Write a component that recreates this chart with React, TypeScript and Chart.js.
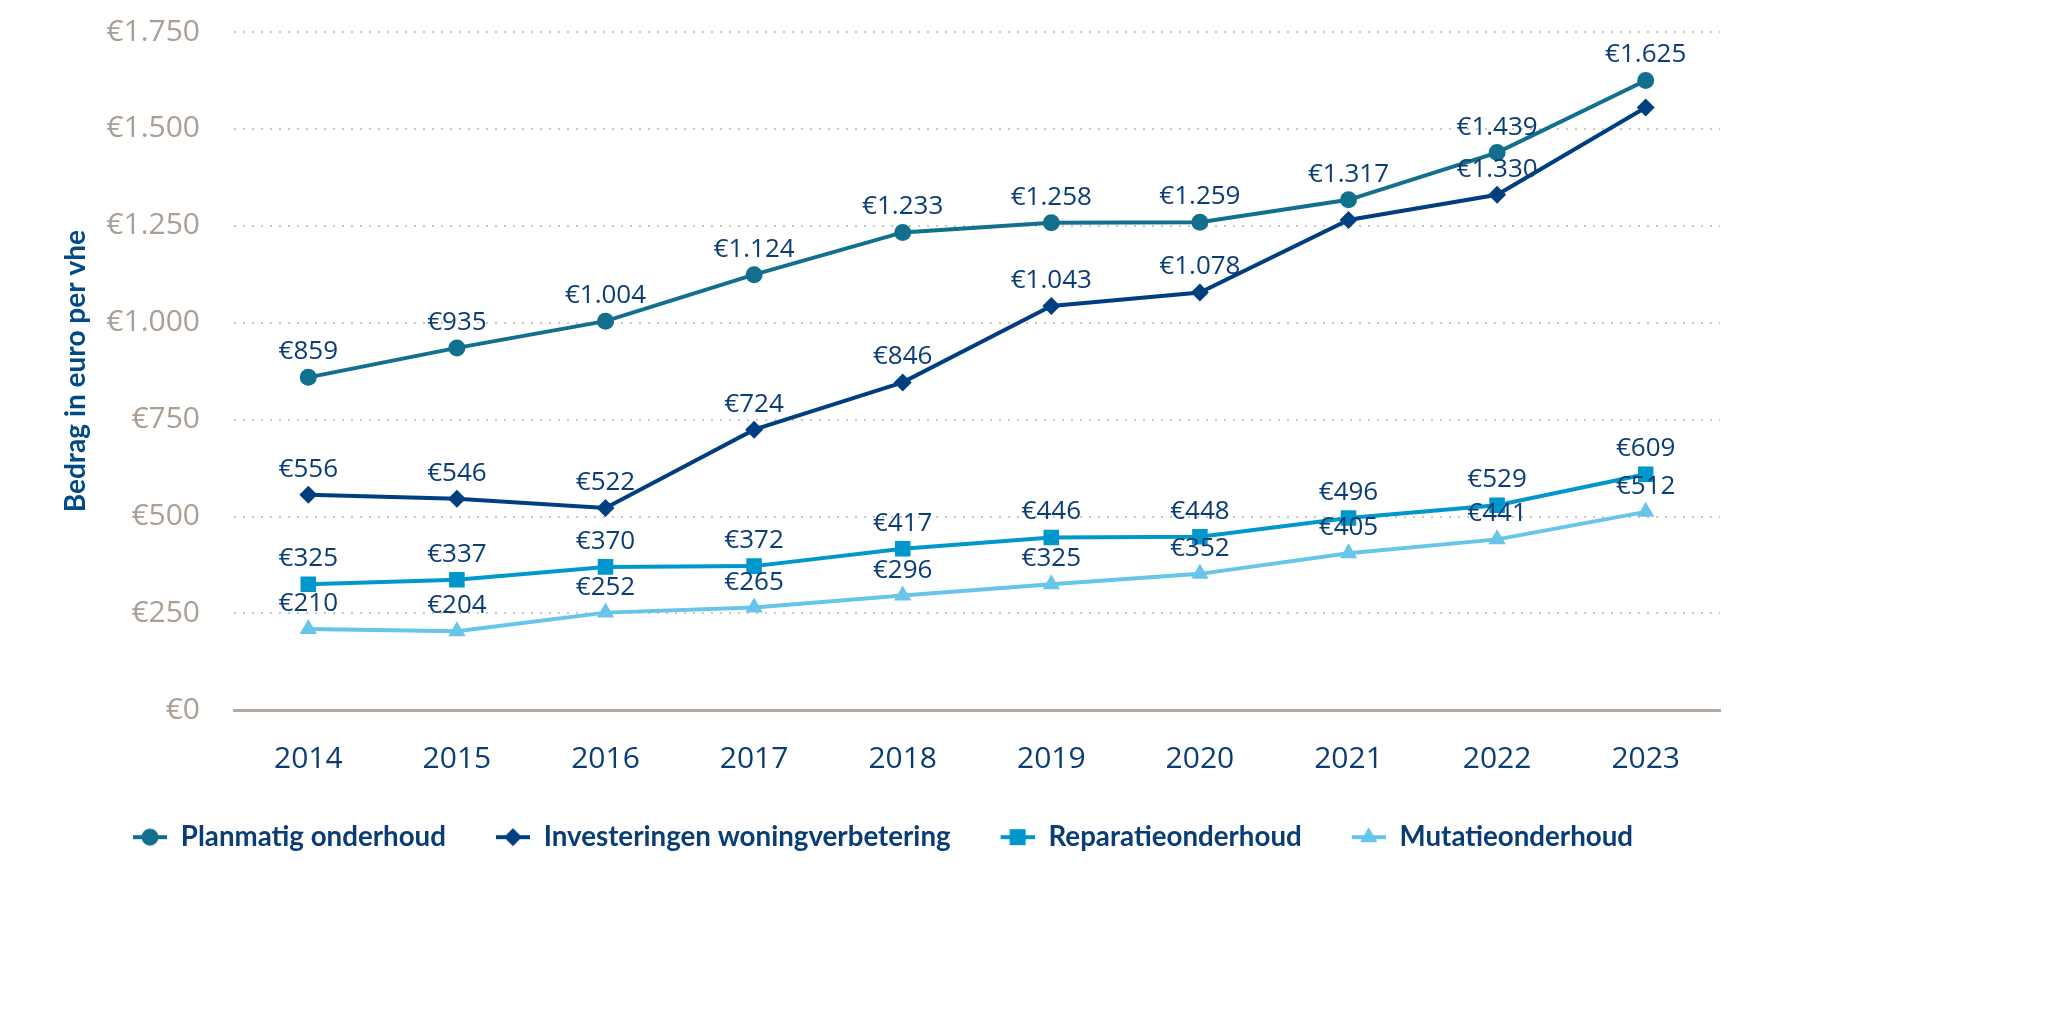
import React, { useEffect, useRef } from 'react';
import { Chart, registerables } from 'chart.js';

Chart.register(...registerables);

// ---- data ----
const years = ['2014', '2015', '2016', '2017', '2018', '2019', '2020', '2021', '2022', '2023'];
const planmatig = [859, 935, 1004, 1124, 1233, 1258, 1259, 1317, 1439, 1625];
const investeringen = [556, 546, 522, 724, 846, 1043, 1078, 1265, 1330, 1555];
const reparatie = [325, 337, 370, 372, 417, 446, 448, 496, 529, 609];
const mutatie = [210, 204, 252, 265, 296, 325, 352, 405, 441, 512];
const seriesNames = ['Planmatig onderhoud', 'Investeringen woningverbetering', 'Reparatieonderhoud', 'Mutatieonderhoud'];
// value labels that the reference does not show
const investeringenLabelShown = [true, true, true, true, true, true, true, false, true, false];
const yMin = 0;
const yMax = 1750;
const yStep = 250;
const yTitle = 'Bedrag in euro per vhe';

// ---- styles ----
const colors = ['#12708e', '#003f7f', '#0098cc', '#66c5e8'];
const pointStyles = ['circle', 'rectRot', 'rect', 'triangle'];
const pointRadii = [8.5, 9, 11, 10];
const labelColor = '#0b3d75';
const tickColor = '#ab9e92';

function euro(v: number): string {
  return '€' + String(Math.round(v)).replace(/\B(?=(\d{3})+(?!\d))/g, '.');
}

const LEGEND_GAP = 40;
const LEGEND_LINE = 34;

function makeLegendImage(i: number): HTMLCanvasElement {
  const M = LEGEND_GAP;
  const W = M + LEGEND_LINE;
  const H = 24;
  const c = document.createElement('canvas');
  c.width = W;
  c.height = H;
  const g = c.getContext('2d')!;
  const cy = H / 2;
  const cx = M + LEGEND_LINE / 2;
  g.strokeStyle = colors[i];
  g.fillStyle = colors[i];
  g.lineWidth = 4;
  g.beginPath();
  g.moveTo(M, cy);
  g.lineTo(W, cy);
  g.stroke();
  g.beginPath();
  const st = pointStyles[i];
  if (st === 'circle') {
    g.arc(cx, cy, 8.5, 0, Math.PI * 2);
  } else if (st === 'rectRot') {
    const r = 9;
    g.moveTo(cx, cy - r);
    g.lineTo(cx + r, cy);
    g.lineTo(cx, cy + r);
    g.lineTo(cx - r, cy);
    g.closePath();
  } else if (st === 'rect') {
    g.rect(cx - 8, cy - 8, 16, 16);
  } else {
    const r = 10;
    g.moveTo(cx, cy - r);
    g.lineTo(cx + r * 0.866, cy + r * 0.5);
    g.lineTo(cx - r * 0.866, cy + r * 0.5);
    g.closePath();
  }
  g.fill();
  return c;
}

const valueLabelPlugin = {
  id: 'valueLabels',
  afterDatasetsDraw(chart: any) {
    const ctx = chart.ctx;
    const shownBySeries = [null, investeringenLabelShown, null, null];
    ctx.save();
    ctx.font = '26px "Open Sans"';
    ctx.fillStyle = labelColor;
    ctx.textAlign = 'center';
    ctx.textBaseline = 'alphabetic';
    chart.data.datasets.forEach((ds: any, di: number) => {
      const meta = chart.getDatasetMeta(di);
      const shown = shownBySeries[di];
      meta.data.forEach((pt: any, i: number) => {
        if (shown && !shown[i]) return;
        ctx.fillText(euro(ds.data[i]), pt.x, pt.y - 18);
      });
    });
    ctx.restore();
  },
};

export default function App() {
  const ref = useRef<HTMLCanvasElement | null>(null);

  useEffect(() => {
    if (!ref.current) return;
    const legendImages = [0, 1, 2, 3].map(makeLegendImage);
    const seriesData = [planmatig, investeringen, reparatie, mutatie];
    const chart = new Chart(ref.current, {
      type: 'line',
      data: {
        labels: years,
        datasets: seriesData.map((d, i) => ({
          label: seriesNames[i],
          data: d,
          borderColor: colors[i],
          backgroundColor: colors[i],
          borderWidth: 4,
          pointStyle: pointStyles[i] as any,
          pointRadius: pointRadii[i],
          pointHoverRadius: pointRadii[i],
          pointBackgroundColor: colors[i],
          pointBorderWidth: 0,
          tension: 0,
          fill: false,
        })),
      },
      plugins: [valueLabelPlugin],
      options: {
        animation: false,
        responsive: true,
        maintainAspectRatio: false,
        devicePixelRatio: 1,
        layout: { padding: { left: 83, right: 328, top: 32, bottom: 155 } },
        plugins: {
          tooltip: { enabled: false },
          legend: {
            position: 'bottom',
            align: 'start',
            labels: {
              usePointStyle: true,
              pointStyleWidth: LEGEND_GAP + LEGEND_LINE,
              padding: 10,
              color: labelColor,
              font: { family: 'Lato', size: 27.7, weight: 'bold' },
              generateLabels(ch: any) {
                const items = Chart.defaults.plugins.legend.labels.generateLabels(ch);
                items.forEach((it: any, i: number) => {
                  it.pointStyle = legendImages[i];
                });
                return items;
              },
            },
          },
        },
        scales: {
          x: {
            offset: true,
            grid: { display: false, drawTicks: false },
            border: { display: true, color: '#b3a89e', width: 3 },
            ticks: {
              color: labelColor,
              padding: 31,
              font: { family: 'Open Sans', size: 30 },
            },
            afterFit(scale: any) {
              scale.height = 103;
            },
          },
          y: {
            min: yMin,
            max: yMax,
            grid: {
              drawTicks: false,
              lineWidth: 2,
              color: (c: any) => (c.tick && c.tick.value === 0 ? 'rgba(0,0,0,0)' : '#c9c9c9'),
            },
            border: { display: false, dash: [2, 7] },
            ticks: {
              stepSize: yStep,
              padding: 34,
              color: tickColor,
              font: { family: 'Open Sans', size: 30 },
              callback: (v: any) => euro(Number(v)),
            },
            title: {
              display: true,
              text: yTitle,
              color: '#004a88',
              font: { family: 'Lato', size: 28, weight: 'bold', lineHeight: 1 },
              padding: { top: -21, bottom: 0 },
            },
            afterFit(scale: any) {
              scale.width = 151;
              scale.paddingTop = 0;
              scale.paddingBottom = 0;
            },
          },
        },
      } as any,
    });
    return () => chart.destroy();
  }, []);

  return (
    <div style={{ position: 'fixed', left: 0, top: 0, width: 2048, height: 1016, background: '#ffffff' }}>
      <canvas ref={ref} />
    </div>
  );
}
